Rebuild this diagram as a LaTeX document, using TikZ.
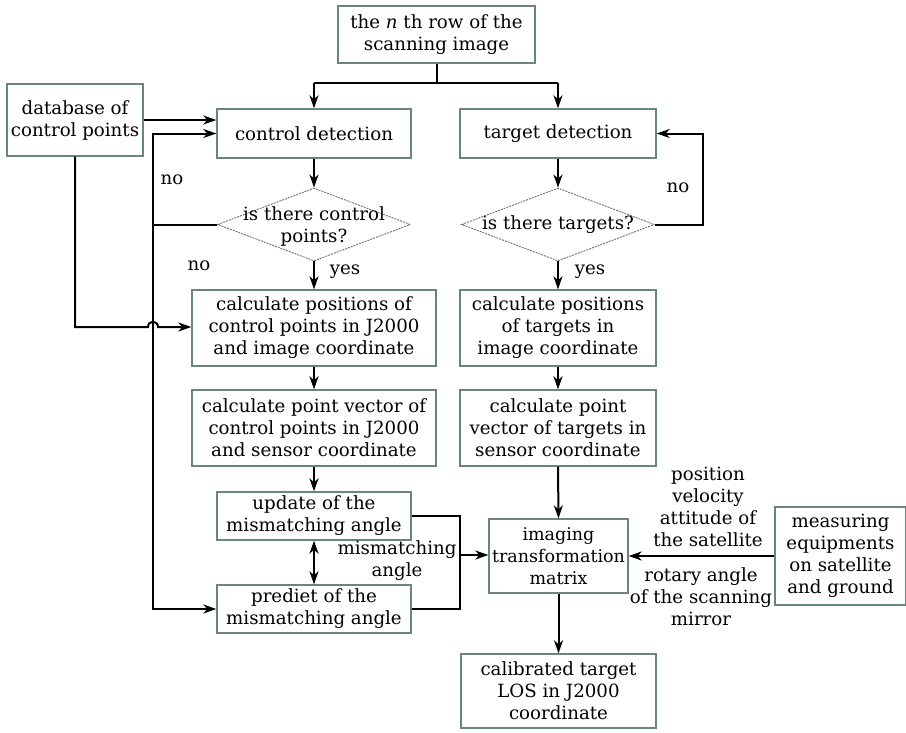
\documentclass[tikz,border=0pt]{standalone}
\usepackage{fontspec}
\setmainfont{DejaVu Serif}
\usepackage{tikz}
\usetikzlibrary{arrows.meta,shapes.geometric}
\definecolor{boxc}{RGB}{105,135,120}
\definecolor{diac}{RGB}{110,110,110}
\tikzset{
  box/.style={draw=boxc,line width=1.4pt,fill=white,align=center,inner sep=0pt,font=\fontsize{18.2}{22}\selectfont},
  dia/.style={draw=diac,dashed,dash pattern=on 2pt off 1pt,line width=0.9pt,shape=diamond,inner sep=0pt},
  txt/.style={align=center,inner sep=0pt,font=\fontsize{18.2}{22}\selectfont},
  conn/.style={line width=2pt,-{Stealth[length=13pt,width=9pt,inset=4pt]}},
  line/.style={line width=2pt},
  dbl/.style={line width=2pt,{Stealth[length=13pt,width=9pt,inset=4pt]}-{Stealth[length=13pt,width=9pt,inset=4pt]}}
}
\begin{document}
\begin{tikzpicture}[x=1pt,y=-1pt]
\useasboundingbox (0,0) rectangle (906,732);
% boxes
\node[box,minimum width=197pt,minimum height=57pt] (top) at (436.5,34.5) {the \textit{n} th row of the\\scanning image};
\node[box,minimum width=136pt,minimum height=72pt] (db) at (75,120) {database of\\control points};
\node[box,minimum width=194pt,minimum height=49pt] (cd) at (314,133.5) {control detection};
\node[box,minimum width=196pt,minimum height=49pt] (td) at (558,133.5) {target detection};
\node[dia,minimum width=193pt,minimum height=73pt] (d1) at (314,224.5) {};
\node[txt] (d1t) at (314,226) {is there control\\points?};
\node[dia,minimum width=193pt,minimum height=73pt] (d2) at (558,224.5) {};
\node[txt] (d2t) at (558,225) {is there targets?};
\node[box,minimum width=244pt,minimum height=76pt] (cp) at (314,328) {calculate positions of\\control points in J2000\\and image coordinate};
\node[box,minimum width=196pt,minimum height=76pt] (tp) at (558,328) {calculate positions\\of targets in\\image coordinate};
\node[box,minimum width=244pt,minimum height=76pt] (cv) at (314,428) {calculate point vector of\\control points in J2000\\and sensor coordinate};
\node[box,minimum width=196pt,minimum height=76pt] (tv) at (558,428) {calculate point\\vector of targets in\\sensor coordinate};
\node[box,minimum width=194pt,minimum height=48pt] (up) at (314,516) {update of the\\mismatching angle};
\node[box,minimum width=194pt,minimum height=48pt] (pr) at (314,609) {prediet of the\\mismatching angle};
\node[box,minimum width=139pt,minimum height=74pt,font=\fontsize{17.5}{22}\selectfont] (im) at (558.5,556) {imaging\\transformation\\matrix};
\node[box,minimum width=195pt,minimum height=74pt] (cal) at (558.5,691) {calibrated target\\LOS in J2000\\coordinate};
\node[box,minimum width=131pt,minimum height=98pt] (me) at (840.5,556) {measuring\\equipments\\on satellite\\and ground};
% coordinates
\coordinate (split) at (436.5,83);
\coordinate (sl) at (314,83);
\coordinate (sr) at (558,83);
\coordinate (lx) at (153,133.5);
\coordinate (lb) at (153,609);
\coordinate (rl) at (703,224.5);
\coordinate (mr) at (460,516);
\coordinate (mb) at (460,609);
\coordinate (mm) at (460,555);
% connectors
\draw[line] (top.south) -- (split);
\draw[line] (sl) -- (sr);
\draw[conn] (sl) -- (cd.north);
\draw[conn] (sr) -- (td.north);
\draw[conn] (db.east |- 0,120) -- (cd.west |- 0,120);
\draw[conn] (d1.west) -- (lx |- d1.west) -- (lx) -- (cd.west);
\draw[conn] (lx |- d1.west) -- (lb) -- (pr.west);
\draw[conn] (db.south) -- (75,327) -- (148,327) .. controls (148,320) and (158,320) .. (158,327) -- (cp.west |- 0,327);
\draw[conn] (cd.south) -- (d1.north);
\draw[conn] (d1.south) -- (cp.north);
\draw[conn] (cp.south) -- (cv.north);
\draw[conn] (cv.south) -- (up.north);
\draw[dbl] (up.south) -- (pr.north);
\draw[conn] (td.south) -- (d2.north);
\draw[conn] (d2.east) -- (rl) |- (td.east);
\draw[conn] (d2.south) -- (tp.north);
\draw[conn] (tp.south) -- (tv.north);
\draw[conn] (tv.south) -- (im.north);
\draw[line] (up.east) -- (mr) -- (mb) -- (pr.east);
\draw[conn] (mm) -- (im.west |- mm);
\draw[conn] (im.south) -- (cal.north);
\draw[conn] (me.west) -- (im.east);
% labels
\node[txt] (no1) at (172,180) {no};
\node[txt] (no2) at (199,266) {no};
\node[txt] (yes1) at (345,272) {yes};
\node[txt] (yes2) at (590,272) {yes};
\node[txt] (no3) at (678,188) {no};
\node[txt] (mis) at (397,561) {mismatching\\angle};
\node[txt] (pva) at (708,507) {position\\velocity\\attitude of\\the satellite};
\node[txt] (rot) at (701,597) {rotary angle\\of the scanning\\mirror};
\end{tikzpicture}
\end{document}
